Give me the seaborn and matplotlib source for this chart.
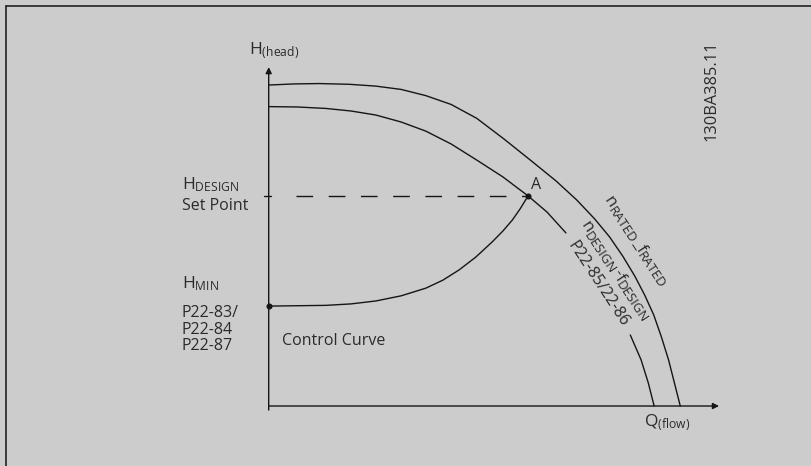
import matplotlib
matplotlib.use("Agg")
import numpy as np
import matplotlib.pyplot as plt
import matplotlib.transforms as mtransforms
import seaborn as sns

# Pump characteristic at rated speed (flow Q in %, head H in %)
q_rated = [0.0, 5.7, 11.2, 17.9, 23.8, 29.4, 34.9, 40.5, 46.2, 52.2, 58.4,
           63.8, 68.4, 72.4, 75.7, 78.6, 81.3, 83.5, 85.5, 87.2, 88.8, 90.1, 91.4]
h_rated = [87.7, 88.0, 88.1, 87.9, 87.4, 86.5, 84.8, 82.4, 78.6, 73.0, 66.9,
           61.5, 56.3, 51.1, 46.2, 41.0, 35.5, 30.3, 24.9, 18.9, 12.6, 6.3, 0.0]

# Pump characteristic at design speed, split around its label
q_design_a = [0.0, 6.4, 12.7, 18.3, 23.8, 29.4, 34.9, 40.5, 46.2, 52.0, 57.6, 61.8, 66.0]
h_design_a = [81.8, 81.7, 81.3, 80.6, 79.5, 77.6, 75.1, 71.6, 67.2, 62.6, 57.4, 53.0, 47.3]
q_design_b = [80.3, 82.7, 84.3, 85.6]
h_design_b = [19.4, 12.6, 6.3, 0.0]

# Control curve from H_MIN up to the design point A
q_control = [0.0, 6.4, 12.7, 18.3, 23.8, 29.4, 34.9, 38.7, 42.3, 46.0, 49.6,
             52.0, 54.1, 55.8, 57.6]
h_control = [27.3, 27.4, 27.5, 27.9, 28.7, 30.1, 32.2, 34.4, 37.2, 40.7, 44.8,
             47.8, 50.8, 53.8, 57.4]

# Marked points: H_MIN on the head axis and design point A
q_points = [0.0, 57.6]
h_points = [27.3, 57.4]
h_design = 57.4

sns.set_theme(style="white")
plt.rcParams["font.family"] = ["Open Sans", "DejaVu Sans"]
plt.rcParams["mathtext.fontset"] = "custom"
plt.rcParams["mathtext.rm"] = "Open Sans"
plt.rcParams["mathtext.it"] = "Open Sans"
plt.rcParams["mathtext.bf"] = "Open Sans"
plt.rcParams["lines.scale_dashes"] = False

bg = "#cccccc"
ink = "#151515"
txt = "#2b2b2b"

fig = plt.figure(figsize=(8.11, 4.66), dpi=100, facecolor=bg)
ax = fig.add_axes([0, 0, 1, 1])
ax.set_facecolor(bg)
ax.set_xlim(-59.67, 120.43)
ax.set_ylim(-16.39, 110.93)
ax.axis("off")

lw = 1.0
curves = [
    (q_rated, h_rated),
    (q_design_a, h_design_a),
    (q_design_b, h_design_b),
    (q_control, h_control),
]
for qs, hs in curves:
    sns.lineplot(x=qs, y=hs, ax=ax, color=ink, linewidth=lw, sort=False,
                 estimator=None)

# Design set point line
sns.lineplot(x=[6.0, q_points[1]], y=[h_design, h_design], ax=ax, color=ink,
             linewidth=lw, estimator=None,
             linestyle=(0, (12.0, 11.2)))
ax.plot([-1.0, 0.6], [h_design, h_design], color=ink, linewidth=lw)

sns.scatterplot(x=q_points, y=h_points, ax=ax, color=ink, s=19,
                edgecolor=ink, linewidth=0, zorder=5)

# Axes with arrow heads
arrow = dict(arrowstyle="-|>", mutation_scale=9, lw=lw, color=ink,
             shrinkA=0, shrinkB=0)
ax.annotate("", xy=(0, 92.6), xytext=(0, -1.1), arrowprops=arrow)
ax.annotate("", xy=(100.0, 0), xytext=(0, 0), arrowprops=arrow)

fs = 11.5
ax.text(-4.43, 96.2, r"$\mathrm{H}_{\mathrm{(head)}}$", fontsize=fs + 1,
        color=txt, ha="left", va="baseline")
ax.text(-19.3, 59.3, r"$\mathrm{H}_{\mathrm{DESIGN}}$", fontsize=fs + 1,
        color=txt, ha="left", va="baseline")
ax.text(-19.3, 53.6, "Set Point", fontsize=fs, color=txt, ha="left",
        va="baseline")
ax.text(-19.3, 32.2, r"$\mathrm{H}_{\mathrm{MIN}}$", fontsize=fs + 1,
        color=txt, ha="left", va="baseline")
for y, s in zip([24.3, 19.8, 15.3], ["P22-83/", "P22-84", "P22-87"]):
    ax.text(-19.3, y, s, fontsize=fs, color=txt, ha="left", va="baseline")
ax.text(2.9, 16.7, "Control Curve", fontsize=fs, color=txt, ha="left",
        va="baseline")
ax.text(58.3, 59.3, "A", fontsize=fs, color=txt, ha="left", va="baseline")
ax.text(83.4, -5.5, r"$\mathrm{Q}_{\mathrm{(flow)}}$", fontsize=fs + 1,
        color=txt, ha="left", va="baseline")
ax.text(98.4, 86.1, "130BA385.11", fontsize=11.8, color=txt,
        rotation=90, ha="center", va="center")


def slanted_label(x, y, pieces, angle, lift=4.5):
    """Draw text pieces (string, size, drop_px) along a rotated baseline
    centred on (x, y)."""
    renderer = fig.canvas.get_renderer()
    widths = []
    for s, size, _ in pieces:
        probe = ax.text(0, 0, s, fontsize=size)
        widths.append(probe.get_window_extent(renderer).width)
        probe.remove()
    total = sum(widths)
    a = np.deg2rad(angle)
    u = np.array([np.cos(a), np.sin(a)])
    n = np.array([-np.sin(a), np.cos(a)])
    pos = -total / 2.0
    for (s, size, drop), w in zip(pieces, widths):
        d = pos * u + (-lift - drop) * n
        tr = ax.transData + mtransforms.Affine2D().translate(d[0], d[1])
        ax.text(x, y, s, fontsize=size, color=txt, rotation=angle,
                rotation_mode="anchor", ha="left", va="baseline",
                transform=tr)
        pos += w


rot = -56.7
slanted_label(81.6, 44.9, [("n", 12, 0), ("RATED", 9.5, 2.2), ("_", 12, 0),
                           ("f", 12, 0), ("RATED", 9.5, 2.2)], rot)
slanted_label(76.9, 36.7, [("n", 12, 0), ("DESIGN", 9.5, 2.2), ("-", 12, 0),
                           ("f", 12, 0), ("DESIGN", 9.5, 2.2)], rot, lift=3.5)
ax.text(73.2, 33.4, "P22-85/22-86", fontsize=fs, color=txt, rotation=rot,
        rotation_mode="anchor", ha="center", va="center")

# Panel frame (left and top edges)
fig.add_artist(plt.Line2D([5.5 / 811, 5.5 / 811], [0, 1 - 5.5 / 466],
                          transform=fig.transFigure, color="#222222", lw=1.2))
fig.add_artist(plt.Line2D([5.5 / 811, 1], [1 - 5.5 / 466, 1 - 5.5 / 466],
                          transform=fig.transFigure, color="#222222", lw=1.2))

fig.savefig("out.png", dpi=100, facecolor=bg)
